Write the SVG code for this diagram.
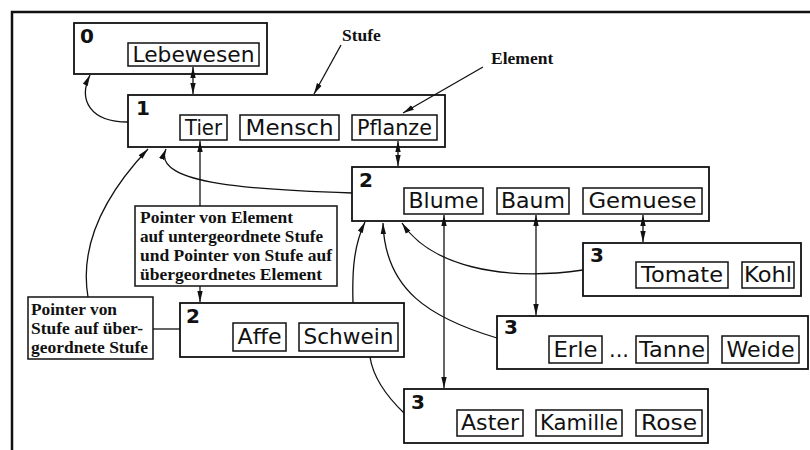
<svg xmlns="http://www.w3.org/2000/svg" width="810" height="450" viewBox="0 0 810 450">
  <style>
    .frame { fill: none; stroke: #111; stroke-width: 2.5; }
    .stufe { fill: #fff; stroke: #111; stroke-width: 1.8; }
    .elem { fill: #fff; stroke: #111; stroke-width: 1.5; }
    .note { fill: #fff; stroke: #111; stroke-width: 1.5; }
    .num { font-family: "DejaVu Sans", sans-serif; font-weight: bold; font-size: 20px; fill: #111; }
    .et { font-family: "DejaVu Sans", sans-serif; font-size: 21px; fill: #111; text-anchor: middle; }
    .lbl { font-family: "Liberation Serif", serif; font-weight: bold; font-size: 17.5px; fill: #111; }
    .conn { fill: none; stroke: #111; stroke-width: 1.3; }
  </style>
  <defs>
    <marker id="head" markerUnits="userSpaceOnUse" markerWidth="12" markerHeight="8" refX="11" refY="4" orient="auto-start-reverse">
      <path d="M0,1.3 L11,4 L0,6.7 z" fill="#111"/>
    </marker>
  </defs>

  <rect width="810" height="450" fill="#fff"/>
  <!-- outer frame -->
  <path class="frame" d="M12,450 L12,12 L810,12"/>

  <!-- captions -->
  <text class="lbl" x="342" y="41" font-size="17.5">Stufe</text>
  <text class="lbl" x="491" y="64" font-size="17.5">Element</text>

  <!-- Stufe 0 -->
  <g id="stufe0">
    <rect class="stufe" x="74" y="23" width="193" height="51"/>
    <text class="num" x="80" y="43">0</text>
    <rect class="elem" x="128" y="43" width="131" height="23"/>
    <text class="et" x="193.5" y="62" textLength="122" lengthAdjust="spacingAndGlyphs">Lebewesen</text>
  </g>

  <!-- Stufe 1 -->
  <g id="stufe1">
    <rect class="stufe" x="128" y="95" width="317" height="52"/>
    <text class="num" x="136" y="115">1</text>
    <rect class="elem" x="180" y="115" width="47" height="25"/>
    <text class="et" x="203.5" y="135" textLength="37" lengthAdjust="spacingAndGlyphs">Tier</text>
    <rect class="elem" x="240" y="115" width="99" height="25"/>
    <text class="et" x="289.5" y="135" textLength="88" lengthAdjust="spacingAndGlyphs">Mensch</text>
    <rect class="elem" x="352" y="115" width="85" height="25"/>
    <text class="et" x="394.5" y="135" textLength="75" lengthAdjust="spacingAndGlyphs">Pflanze</text>
  </g>

  <!-- Stufe 2: Pflanze -->
  <g id="stufe2-pflanze">
    <rect class="stufe" x="352" y="167" width="357" height="54"/>
    <text class="num" x="359" y="187">2</text>
    <rect class="elem" x="404" y="188" width="79" height="26"/>
    <text class="et" x="443.5" y="208" textLength="70" lengthAdjust="spacingAndGlyphs">Blume</text>
    <rect class="elem" x="497" y="188" width="72" height="26"/>
    <text class="et" x="533" y="208" textLength="64" lengthAdjust="spacingAndGlyphs">Baum</text>
    <rect class="elem" x="583" y="188" width="119" height="26"/>
    <text class="et" x="642.5" y="208" textLength="108" lengthAdjust="spacingAndGlyphs">Gemuese</text>
  </g>

  <!-- Stufe 2: Tier -->
  <g id="stufe2-tier">
    <rect class="stufe" x="180" y="303" width="224" height="54"/>
    <text class="num" x="186" y="323">2</text>
    <rect class="elem" x="233" y="323" width="53" height="28"/>
    <text class="et" x="259.5" y="344" textLength="44" lengthAdjust="spacingAndGlyphs">Affe</text>
    <rect class="elem" x="299" y="323" width="99" height="28"/>
    <text class="et" x="348.5" y="344" textLength="90" lengthAdjust="spacingAndGlyphs">Schwein</text>
  </g>

  <!-- Stufe 3: Gemuese -->
  <g id="stufe3-gemuese">
    <rect class="stufe" x="583" y="243" width="218" height="53"/>
    <text class="num" x="590" y="262">3</text>
    <rect class="elem" x="636" y="262" width="92" height="26"/>
    <text class="et" x="682" y="282" textLength="82" lengthAdjust="spacingAndGlyphs">Tomate</text>
    <rect class="elem" x="742" y="262" width="52" height="26"/>
    <text class="et" x="768" y="282" textLength="48" lengthAdjust="spacingAndGlyphs">Kohl</text>
  </g>

  <!-- Stufe 3: Baum -->
  <g id="stufe3-baum">
    <rect class="stufe" x="497" y="316" width="311" height="53"/>
    <text class="num" x="504" y="334">3</text>
    <rect class="elem" x="549" y="336" width="53" height="27"/>
    <text class="et" x="575.5" y="357" textLength="44" lengthAdjust="spacingAndGlyphs">Erle</text>
    <text class="et" x="619" y="357">...</text>
    <rect class="elem" x="636" y="336" width="72" height="27"/>
    <text class="et" x="672" y="357" textLength="66" lengthAdjust="spacingAndGlyphs">Tanne</text>
    <rect class="elem" x="722" y="336" width="77" height="27"/>
    <text class="et" x="760.5" y="357" textLength="68" lengthAdjust="spacingAndGlyphs">Weide</text>
  </g>

  <!-- Stufe 3: Blume -->
  <g id="stufe3-blume">
    <rect class="stufe" x="404" y="389" width="304" height="54"/>
    <text class="num" x="411" y="409">3</text>
    <rect class="elem" x="457" y="410" width="66" height="26"/>
    <text class="et" x="490" y="430" textLength="58" lengthAdjust="spacingAndGlyphs">Aster</text>
    <rect class="elem" x="536" y="410" width="86" height="26"/>
    <text class="et" x="579" y="430" textLength="78" lengthAdjust="spacingAndGlyphs">Kamille</text>
    <rect class="elem" x="636" y="410" width="66" height="26"/>
    <text class="et" x="669" y="430" textLength="56" lengthAdjust="spacingAndGlyphs">Rose</text>
  </g>

  <!-- explanatory notes -->
  <g id="note-element-pointer">
    <rect class="note" x="135" y="206" width="202" height="80"/>
    <text class="lbl" x="140" y="223" textLength="153" lengthAdjust="spacingAndGlyphs">Pointer von Element</text>
    <text class="lbl" x="140" y="242" textLength="183" lengthAdjust="spacingAndGlyphs">auf untergeordnete Stufe</text>
    <text class="lbl" x="140" y="261" textLength="192" lengthAdjust="spacingAndGlyphs">und Pointer von Stufe auf</text>
    <text class="lbl" x="140" y="280" textLength="182" lengthAdjust="spacingAndGlyphs">übergeordnetes Element</text>
  </g>
  <g id="note-stufe-pointer">
    <rect class="note" x="28" y="297" width="125" height="62"/>
    <text class="lbl" x="31" y="315" textLength="86" lengthAdjust="spacingAndGlyphs">Pointer von</text>
    <text class="lbl" x="31" y="334" textLength="112" lengthAdjust="spacingAndGlyphs">Stufe auf über-</text>
    <text class="lbl" x="31" y="353" textLength="117" lengthAdjust="spacingAndGlyphs">geordnete Stufe</text>
  </g>

  <!-- connectors: element-to-stufe links (two-way) and stufe-to-parent links -->
  <g id="connectors">
    <path class="conn" d="M193,67 L193,94" marker-start="url(#head)" marker-end="url(#head)"/>
    <path class="conn" d="M398,141 L398,166" marker-start="url(#head)" marker-end="url(#head)"/>
    <path class="conn" d="M643,215 L643,242" marker-start="url(#head)" marker-end="url(#head)"/>
    <path class="conn" d="M536,215 L536,315" marker-start="url(#head)" marker-end="url(#head)"/>
    <path class="conn" d="M444,215 L444,388" marker-start="url(#head)" marker-end="url(#head)"/>
    <!-- Tier <-> Stufe 2, interrupted by the note box -->
    <path class="conn" d="M200,141 L200,206" marker-start="url(#head)"/>
    <path class="conn" d="M200,286 L200,302" marker-end="url(#head)"/>
    <!-- caption pointers -->
    <path class="conn" d="M341,45 L314,94" marker-end="url(#head)"/>
    <path class="conn" d="M483,67 L403,113" marker-end="url(#head)"/>
    <!-- stufe to parent stufe -->
    <path class="conn" d="M128,122 C90,122 78,100 90,75" marker-end="url(#head)"/>
    <path class="conn" d="M352,193 C260,190 150,185 166,149" marker-end="url(#head)"/>
    <path class="conn" d="M88,297 C80,250 100,200 148,149" marker-end="url(#head)"/>
    <path class="conn" d="M153,329 L180,329"/>
    <!-- Aster stufe to parent, passing behind the Affe/Schwein stufe -->
    <path class="conn" d="M404,413 C380,390 372,370 370,357"/>
    <path class="conn" d="M353,303 C352,270 354,245 365,222" marker-end="url(#head)"/>
    <path class="conn" d="M497,338 C430,318 385,290 383,223" marker-end="url(#head)"/>
    <path class="conn" d="M583,270 C500,282 430,265 402,223" marker-end="url(#head)"/>
  </g>
</svg>
